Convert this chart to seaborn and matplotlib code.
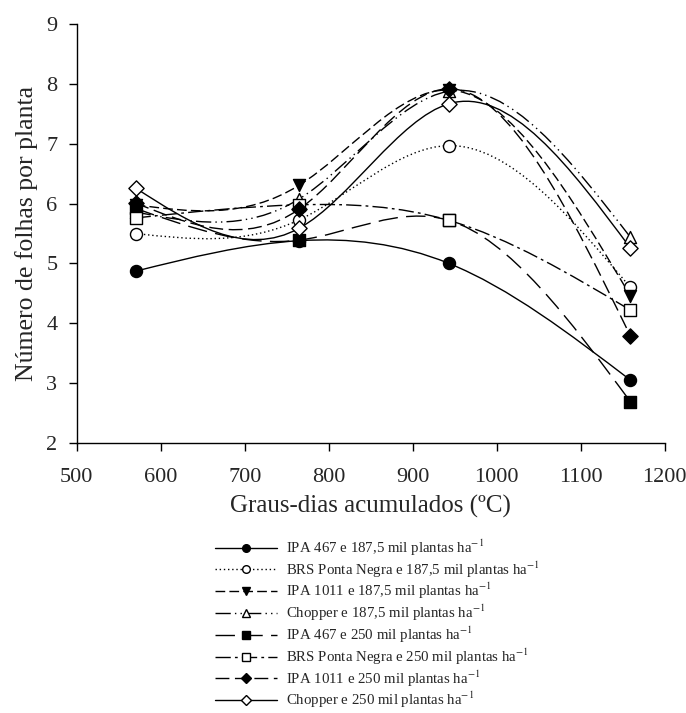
import matplotlib
matplotlib.use('Agg')
import matplotlib.pyplot as plt
from matplotlib.lines import Line2D
from matplotlib.path import Path
from matplotlib.patches import PathPatch
import numpy as np
import seaborn as sns

# Accumulated degree-days at each sampling
graus_dias = [570, 765, 943, 1159]

# Leaves per plant
ipa467_187 = [4.87, 5.38, 5.00, 3.05]
brs_187 = [5.50, 5.73, 6.97, 4.60]
ipa1011_187 = [5.98, 6.31, 7.90, 4.46]
chopper_187 = [5.86, 6.08, 7.88, 5.44]
ipa467_250 = [5.92, 5.39, 5.72, 2.69]
brs_250 = [5.76, 5.98, 5.72, 4.22]
ipa1011_250 = [6.01, 5.91, 7.92, 3.79]
chopper_250 = [6.26, 5.59, 7.67, 5.26]

labels = [
    'IPA 467 e 187,5 mil plantas ha$^{-1}$',
    'BRS Ponta Negra e 187,5 mil plantas ha$^{-1}$',
    'IPA 1011 e 187,5 mil plantas ha$^{-1}$',
    'Chopper e 187,5 mil plantas ha$^{-1}$',
    'IPA 467 e 250 mil plantas ha$^{-1}$',
    'BRS Ponta Negra e 250 mil plantas ha$^{-1}$',
    'IPA 1011 e 250 mil plantas ha$^{-1}$',
    'Chopper e 250 mil plantas ha$^{-1}$',
]
series = [ipa467_187, brs_187, ipa1011_187, chopper_187,
          ipa467_250, brs_250, ipa1011_250, chopper_250]

# style per series: (linestyle, marker, facecolor)
styles = [
    ('-', 'o', 'black'),
    ((0, (1, 2)), 'o', 'white'),
    ((0, (7, 3)), 'v', 'black'),
    ((0, (11, 3, 1, 3, 1, 3)), '^', 'white'),
    ((0, (14, 6)), 's', 'black'),
    ((0, (11, 3, 2, 3)), 's', 'white'),
    ((0, (10, 4)), 'D', 'black'),
    ('-', 'D', 'white'),
]


def smooth_path(x, y):
    # natural cubic spline through the points, drawn as bezier segments
    x = np.asarray(x, float)
    y = np.asarray(y, float)
    n = len(x)
    h = np.diff(x)
    d = np.diff(y) / h
    A = np.zeros((n, n))
    b = np.zeros(n)
    A[0, 0] = A[-1, -1] = 1
    for i in range(1, n - 1):
        A[i, i - 1] = h[i - 1]
        A[i, i] = 2 * (h[i - 1] + h[i])
        A[i, i + 1] = h[i]
        b[i] = 6 * (d[i] - d[i - 1])
    M = np.linalg.solve(A, b)
    verts = [(x[0], y[0])]
    codes = [Path.MOVETO]
    for i in range(n - 1):
        m0 = d[i] - h[i] * (2 * M[i] + M[i + 1]) / 6
        m1 = d[i] + h[i] * (M[i] + 2 * M[i + 1]) / 6
        verts += [(x[i] + h[i] / 3, y[i] + m0 * h[i] / 3),
                  (x[i + 1] - h[i] / 3, y[i + 1] - m1 * h[i] / 3),
                  (x[i + 1], y[i + 1])]
        codes += [Path.CURVE4] * 3
    return Path(verts, codes)


sns.set_style('ticks')
plt.rcParams['font.family'] = ['Liberation Serif', 'DejaVu Serif']
plt.rcParams['mathtext.fontset'] = 'stix'

fig = plt.figure(figsize=(6.86, 7.13), dpi=100)
ax = fig.add_axes([0.112, 0.379, 0.857, 0.587])

handles = []
for y, lab, (ls, mk, fc) in zip(series, labels, styles):
    ax.add_patch(PathPatch(smooth_path(graus_dias, y), facecolor='none',
                           edgecolor='black', lw=1.0, linestyle=ls, zorder=3))
    sns.scatterplot(x=graus_dias, y=y, marker=mk, s=75 if mk != 'D' else 60,
                    color=fc, edgecolor='black', linewidth=1.0, zorder=5,
                    ax=ax)
    handles.append(Line2D([], [], color='black', lw=1.0, linestyle=ls,
                          marker=mk, markersize=5.5, markerfacecolor=fc,
                          markeredgecolor='black', label=lab))

ax.set_xlim(500, 1200)
ax.set_ylim(2, 9)
ax.set_xticks(range(500, 1201, 100))
ax.set_yticks(range(2, 10))
ax.tick_params(direction='out', length=6, width=1, labelsize=16, color='black')
ax.tick_params(axis='x', pad=12)
ax.tick_params(axis='y', pad=8)
sns.despine(ax=ax)
for s in ('left', 'bottom'):
    ax.spines[s].set_color('black')
    ax.spines[s].set_linewidth(1)
ax.set_xlabel('Graus-dias acumulados (ºC)', fontsize=18, labelpad=6)
ax.set_ylabel('Número de folhas por planta', fontsize=18.5, labelpad=6)

fig.legend(handles=handles, loc='upper left', bbox_to_anchor=(0.313, 0.246),
           frameon=False, fontsize=10.7, handlelength=4.2, labelspacing=0.1,
           handletextpad=0.6, borderpad=0, borderaxespad=0)

fig.savefig('out.png', dpi=100)
